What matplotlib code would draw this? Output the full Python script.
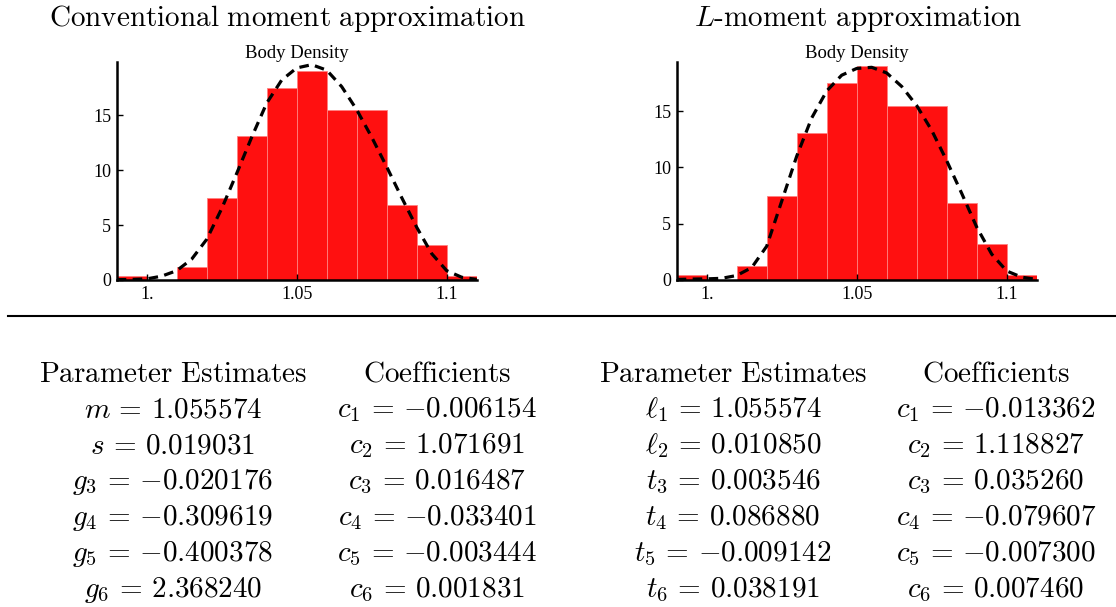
import matplotlib
matplotlib.use("Agg")
import matplotlib.pyplot as plt
import numpy as np

# ---- data ----
bin_edges = [0.99, 1.00, 1.01, 1.02, 1.03, 1.04, 1.05, 1.06, 1.07, 1.08, 1.09, 1.10, 1.11]
bar_heights = [0.4, 0.0, 1.2, 7.5, 13.1, 17.5, 19.0, 15.5, 15.5, 6.8, 3.2, 0.4]

curve_x = [0.99, 0.995, 1.00, 1.005, 1.01, 1.015, 1.02, 1.025, 1.03, 1.035, 1.04, 1.045,
           1.05, 1.055, 1.06, 1.065, 1.07, 1.075, 1.08, 1.085, 1.09, 1.095, 1.10, 1.105, 1.11]
conv_y = [0.03, 0.05, 0.1, 0.35, 0.85, 1.9, 3.7, 6.5, 9.7, 13.0, 16.1, 18.2,
          19.3, 19.6, 19.1, 17.6, 15.5, 13.0, 10.3, 7.5, 4.8, 2.4, 0.85, 0.25, 0.05]
lmom_y = [0.05, 0.08, 0.1, 0.15, 0.4, 1.1, 3.0, 7.0, 11.0, 14.4, 16.8, 18.2,
          18.8, 18.9, 18.4, 17.2, 15.5, 13.3, 10.6, 7.7, 4.7, 2.3, 0.8, 0.25, 0.05]

xticks = [1.0, 1.05, 1.1]
xtick_labels = ["1.", "1.05", "1.1"]
yticks = [0, 5, 10, 15]

conv_params = [r"$m \,=\, 1.055574$", r"$s \,=\, 0.019031$", r"$g_3 \,=\, {-}0.020176$",
               r"$g_4 \,=\, {-}0.309619$", r"$g_5 \,=\, {-}0.400378$", r"$g_6 \,=\, 2.368240$"]
conv_coefs = [r"$c_1 \,=\, {-}0.006154$", r"$c_2 \,=\, 1.071691$", r"$c_3 \,=\, 0.016487$",
              r"$c_4 \,=\, {-}0.033401$", r"$c_5 \,=\, {-}0.003444$", r"$c_6 \,=\, 0.001831$"]
lmom_params = [r"$\ell_1 \,=\, 1.055574$", r"$\ell_2 \,=\, 0.010850$", r"$t_3 \,=\, 0.003546$",
               r"$t_4 \,=\, 0.086880$", r"$t_5 \,=\, {-}0.009142$", r"$t_6 \,=\, 0.038191$"]
lmom_coefs = [r"$c_1 \,=\, {-}0.013362$", r"$c_2 \,=\, 1.118827$", r"$c_3 \,=\, 0.035260$",
              r"$c_4 \,=\, {-}0.079607$", r"$c_5 \,=\, {-}0.007300$", r"$c_6 \,=\, 0.007460$"]

plt.rcParams['mathtext.fontset'] = 'cm'

fig = plt.figure(figsize=(11.16, 6.07), dpi=100)

W, H = 1116.0, 607.0

def make_hist(left_px, right_px, ytop_units, curve_y):
    ax = fig.add_axes([left_px / W, (H - 280) / H, (right_px - left_px) / W, (280 - 61.7) / H])
    widths = np.diff(bin_edges)
    ax.bar(bin_edges[:-1], bar_heights, width=widths, align='edge',
           color='#ff1010', edgecolor='#ff8080', linewidth=0.6, zorder=1)
    ax.plot(curve_x, curve_y, color='black', linestyle=(0, (3.0, 2.0)), linewidth=2.3, zorder=3)
    ax.set_xlim(bin_edges[0], bin_edges[-1])
    ax.set_ylim(0, ytop_units)
    for s in ['top', 'right']:
        ax.spines[s].set_visible(False)
    ax.spines['left'].set_linewidth(1.8)
    ax.spines['bottom'].set_linewidth(1.8)
    ax.spines['bottom'].set_zorder(4)
    ax.set_xticks(xticks)
    ax.set_xticklabels(xtick_labels)
    ax.set_yticks(yticks)
    ax.tick_params(direction='in', length=4, width=1, labelsize=13, pad=4)
    for lab in ax.get_xticklabels() + ax.get_yticklabels():
        lab.set_family('Liberation Serif')
    ax.set_title("Body Density", family='Liberation Serif', fontsize=13.5, pad=3)
    return ax

make_hist(116.7, 476.7, 19.87, conv_y)
make_hist(676.7, 1036.7, 19.4, lmom_y)

# big titles
fig.text(287 / W, 1 - 19 / H, r"$\mathrm{Conventional\ moment\ approximation}$",
         ha='center', va='center', fontsize=21)
fig.text(858 / W, 1 - 19 / H, r"$L\mathrm{\text{-}moment\ approximation}$",
         ha='center', va='center', fontsize=21)

# separator line
fig.add_artist(plt.Line2D([8 / W, 1.0], [1 - 316 / H, 1 - 316 / H], color='black', linewidth=1.5))

# tables
col_x = [173, 437, 733, 996]
headers = ["Parameter Estimates", "Coefficients", "Parameter Estimates", "Coefficients"]
cols = [conv_params, conv_coefs, lmom_params, lmom_coefs]
row_y0 = 374
row_dy = 36
for cx, hdr, vals in zip(col_x, headers, cols):
    fig.text(cx / W, 1 - row_y0 / H, r"$\mathrm{" + hdr.replace(" ", r"\ ") + "}$",
             ha='center', va='center', fontsize=21)
    for i, v in enumerate(vals):
        fig.text(cx / W, 1 - (row_y0 + row_dy * (i + 1)) / H, v,
                 ha='center', va='center', fontsize=21)

fig.savefig("out.png", dpi=100)
